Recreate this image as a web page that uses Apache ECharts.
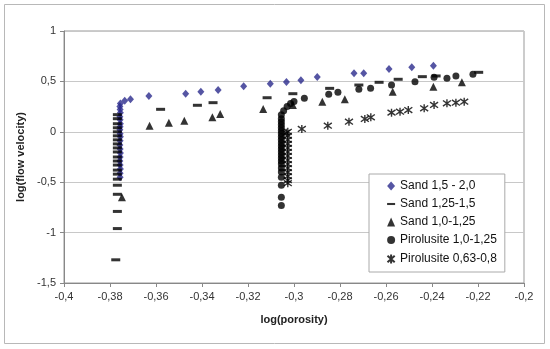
<!DOCTYPE html>
<html><head><meta charset="utf-8">
<script src="https://cdn.jsdelivr.net/npm/echarts@6/dist/echarts.min.js"></script>
<style>html,body{margin:0;padding:0;background:#fff}#c{width:550px;height:349px}</style>
</head><body><div id="c"></div>
<script>
var seriesNames = ["Sand 1,5 - 2,0", "Sand 1,25-1,5", "Sand 1,0-1,25", "Pirolusite 1,0-1,25", "Pirolusite 0,63-0,8"];
var xTicks = [-0.4, -0.38, -0.36, -0.34, -0.32, -0.3, -0.28, -0.26, -0.24, -0.22, -0.2];
var yTicks = [1, 0.5, 0, -0.5, -1, -1.5];

var sand1520 = [
  [-0.3755,0.28],[-0.3757,0.25],[-0.3756,0.22],[-0.3755,0.19],[-0.3757,0.15],[-0.3756,0.12],[-0.3755,0.08],
  [-0.3756,0.05],[-0.3757,0.02],[-0.3756,-0.02],[-0.3755,-0.05],[-0.3756,-0.09],[-0.3757,-0.13],[-0.3756,-0.17],
  [-0.3755,-0.21],[-0.3756,-0.25],[-0.3757,-0.29],[-0.3756,-0.33],[-0.3755,-0.37],[-0.3756,-0.41],[-0.3756,-0.45],
  [-0.3736,0.309],[-0.3711,0.322],[-0.3631,0.355],[-0.3471,0.378],[-0.3405,0.398],[-0.333,0.415],[-0.3219,0.451],
  [-0.3103,0.477],[-0.3033,0.494],[-0.297,0.511],[-0.2899,0.544],[-0.2739,0.58],[-0.2697,0.58],[-0.2587,0.623],
  [-0.2488,0.64],[-0.2394,0.656]
];
var sand12515 = [
  [-0.3768,0.17],[-0.3768,0.13],[-0.3768,0.08],[-0.3768,0.04],[-0.3768,0.0],[-0.3768,-0.04],[-0.3768,-0.08],
  [-0.3768,-0.12],[-0.3768,-0.16],[-0.3768,-0.2],[-0.3768,-0.25],[-0.3768,-0.29],[-0.3768,-0.33],[-0.3768,-0.38],
  [-0.3768,-0.42],[-0.3768,-0.47],[-0.3768,-0.53],[-0.3768,-0.62],[-0.3768,-0.79],[-0.3768,-0.96],[-0.3775,-1.27],
  [-0.358,0.223],[-0.342,0.263],[-0.3352,0.289],[-0.3117,0.338],[-0.3005,0.378],[-0.2845,0.431],[-0.2718,0.464],
  [-0.263,0.491],[-0.2547,0.521],[-0.2442,0.547],[-0.2382,0.554],[-0.2197,0.59]
];
var sand1125 = [
  [-0.3748,-0.65],[-0.3628,0.061],[-0.3544,0.09],[-0.3477,0.11],[-0.3355,0.144],[-0.3321,0.177],[-0.3134,0.226],
  [-0.3005,0.266],[-0.2877,0.299],[-0.2779,0.322],[-0.2571,0.398],[-0.2394,0.447],[-0.227,0.491]
];
var piro1125 = [
  [-0.3055,0.17],[-0.3055,0.13],[-0.3055,0.1],[-0.3055,0.07],[-0.3055,0.04],[-0.3055,0.01],[-0.3055,-0.02],
  [-0.3055,-0.05],[-0.3055,-0.08],[-0.3055,-0.11],[-0.3055,-0.14],[-0.3055,-0.17],[-0.3055,-0.2],[-0.3055,-0.23],
  [-0.3055,-0.26],[-0.3055,-0.29],[-0.3055,-0.32],[-0.3055,-0.36],[-0.3055,-0.4],[-0.3055,-0.45],[-0.3055,-0.53],
  [-0.3055,-0.65],[-0.3055,-0.73],
  [-0.3045,0.21],[-0.303,0.25],[-0.3015,0.28],[-0.3,0.3],[-0.2955,0.332],[-0.2849,0.372],[-0.2809,0.392],
  [-0.2718,0.422],[-0.2667,0.432],[-0.2576,0.464],[-0.2474,0.497],[-0.2391,0.541],[-0.2335,0.531],
  [-0.2296,0.554],[-0.2222,0.57]
];
var piro06308 = [
  [-0.3027,0.0],[-0.3027,-0.04],[-0.3027,-0.08],[-0.3027,-0.12],[-0.3027,-0.16],[-0.3027,-0.2],[-0.3027,-0.24],
  [-0.3027,-0.28],[-0.3027,-0.32],[-0.3027,-0.36],[-0.3027,-0.4],[-0.3027,-0.44],[-0.3027,-0.48],[-0.3027,-0.51],
  [-0.3034,-0.01],[-0.2966,0.028],[-0.2853,0.061],[-0.2761,0.1],[-0.2692,0.127],[-0.2666,0.144],[-0.2576,0.19],
  [-0.2539,0.199],[-0.2503,0.216],[-0.2434,0.233],[-0.2391,0.266],[-0.2335,0.283],[-0.2296,0.289],[-0.226,0.299]
];

var fmt = function(v){ return String(Math.round(v*100)/100).replace('.', ','); };
var star = 'path://M5,0L5,10M1,1.5L9,8.5M1,8.5L9,1.5';
var dash = 'path://M0,0L10,0L10,2.6L0,2.6Z';
var icons = ['diamond', dash, 'triangle', 'circle', star];
var chart = echarts.init(document.getElementById('c'));
chart.setOption({
  animation: false,
  backgroundColor: '#fff',
  textStyle: {fontFamily: 'Liberation Sans, Arial, sans-serif'},
  graphic: [{type:'rect', shape:{x:4.5,y:4.5,width:540,height:339}, style:{fill:'none', stroke:'#b8b8b8', lineWidth:1}, z:-1}],
  grid: {left:64, right:26, top:31, bottom:66, show:true, borderColor:'#999', borderWidth:1},
  xAxis: {type:'value', min:-0.4, max:-0.2, interval:0.02,
    name:'log(porosity)', nameLocation:'middle', nameGap:31,
    nameTextStyle:{fontWeight:'bold', fontSize:11, color:'#222'},
    axisLine:{onZero:false, lineStyle:{color:'#888'}},
    axisTick:{show:true, inside:false, length:4, lineStyle:{color:'#888'}},
    splitLine:{show:false},
    axisLabel:{fontSize:11, color:'#333', margin:8, formatter: function(v){ return xTicks.some(function(t){return Math.abs(t-v)<1e-9;}) ? fmt(v) : ''; }}
  },
  yAxis: {type:'value', min:-1.5, max:1, interval:0.5,
    name:'log(flow velocity)', nameLocation:'middle', nameGap:36, nameRotate:90,
    nameTextStyle:{fontWeight:'bold', fontSize:11, color:'#222'},
    axisLine:{show:true, lineStyle:{color:'#888'}},
    axisTick:{show:true, length:4, lineStyle:{color:'#888'}},
    splitLine:{show:true, lineStyle:{color:'#c8c8c8'}},
    axisLabel:{fontSize:11, color:'#333', margin:8, formatter: function(v){ return yTicks.some(function(t){return Math.abs(t-v)<1e-9;}) ? fmt(v) : ''; }}
  },
  legend: {orient:'vertical', left:369, top:174, backgroundColor:'#fff', borderColor:'#aaa', borderWidth:1,
    padding:[6,8,6,16], itemGap:6, itemWidth:8, itemHeight:9,
    textStyle:{fontSize:12, color:'#111'},
    data: seriesNames.map(function(n, i){return {name:n, icon:icons[i]};})
  },
  series: [
    {name:seriesNames[0], type:'scatter', data:sand1520, symbol:'diamond', symbolSize:[7,8], itemStyle:{color:'#2b2b8c'}, z:2},
    {name:seriesNames[1], type:'scatter', data:sand12515, symbol:'rect', symbolSize:[9,3], itemStyle:{color:'#000'}, z:3},
    {name:seriesNames[2], type:'scatter', data:sand1125, symbol:'triangle', symbolSize:[8,8], itemStyle:{color:'#000'}, z:3},
    {name:seriesNames[3], type:'scatter', data:piro1125, symbol:'circle', symbolSize:7, itemStyle:{color:'#000'}, z:3},
    {name:seriesNames[4], type:'scatter', data:piro06308, symbol:star, symbolSize:8, itemStyle:{color:'none', borderColor:'#000', borderWidth:1.4}, z:4}
  ]
});
</script></body></html>
